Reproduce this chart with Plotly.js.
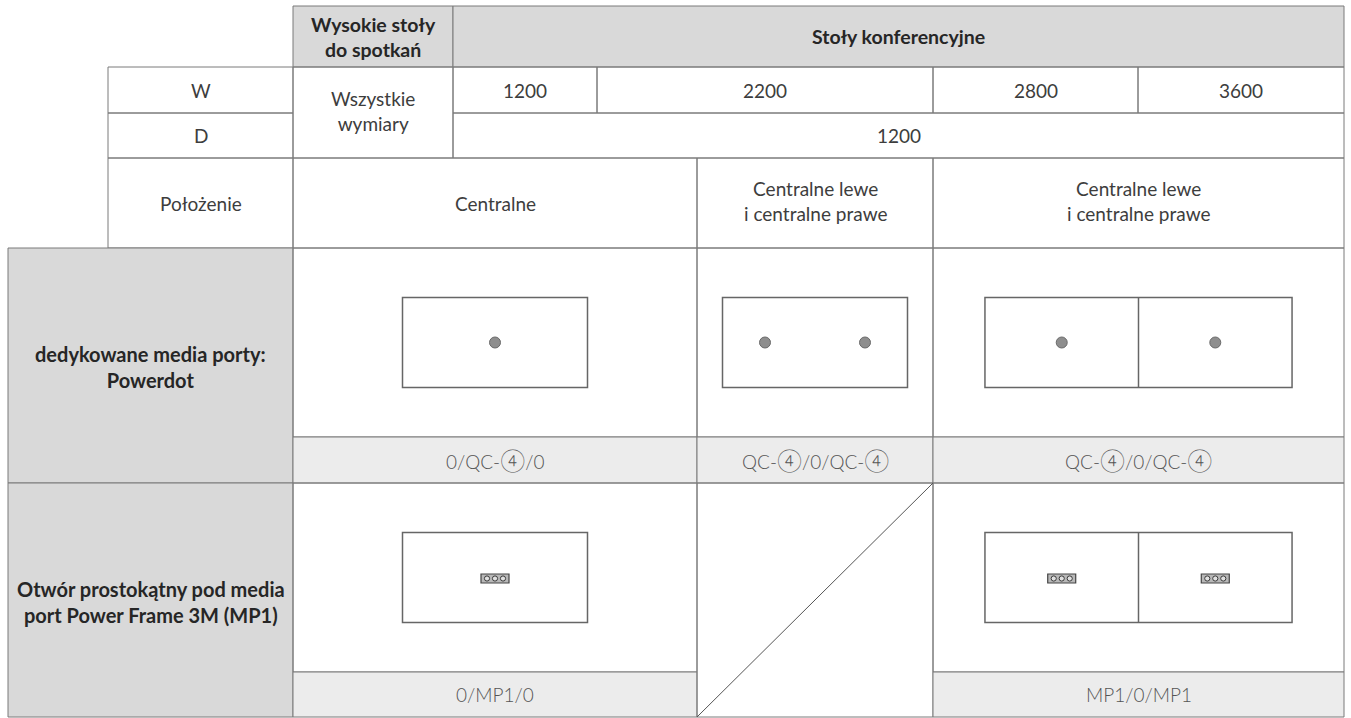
<!DOCTYPE html>
<html>
<head>
<meta charset="utf-8">
<script src="https://cdn.plot.ly/plotly-3.0.1.min.js"></script>
<style>html,body{margin:0;padding:0;background:#fff;}#chart{width:1351px;height:718px;}</style>
</head>
<body>
<div id="chart"></div>
<script>
// ---- DATA ----
const tableGroups = ["Wysokie stoły<br>do spotkań", "Stoły konferencyjne"];
const rowLabels = ["W", "D", "Położenie"];
const allDims = "Wszystkie<br>wymiary";
const widthValues = ["1200", "2200", "2800", "3600"];
const depthValue = "1200";
const positions = ["Centralne", "Centralne lewe<br>i centralne prawe", "Centralne lewe<br>i centralne prawe"];
const portTypes = ["dedykowane media porty:<br>Powerdot", "Otwór prostokątny pod media<br>port Power Frame 3M (MP1)"];
const powerdotCodes = ["0/QC-④/0", "QC-④/0/QC-④", "QC-④/0/QC-④"];
const mp1Codes = ["0/MP1/0", null, "MP1/0/MP1"];
const powerdotPorts = [1, 2, 2];
const mp1Ports = [1, 0, 2];
const tableParts = [1, 1, 2];

// ---- LAYOUT GEOMETRY ----
const X = {outer: 8, lab: 108, c1: 293, c2: 453, c3: 597, pos2: 697, c4: 933, c5: 1138, end: 1344};
const Y = {top: 6, w: 67, d: 113, pos: 158, pd: 248, pdLab: 437, mp: 483, mpLab: 672, bottom: 717};
const LINE = '#7a7a7a';
const GRAY = '#d9d9d9';
const LIGHT = '#ececec';
const FONT = 'Lato, "Noto Sans", sans-serif';

const shapes = [];
const annotations = [];
function cell(x0, y0, x1, y1, fill) {
  shapes.push({type: 'rect', xref: 'x', yref: 'y', x0, y0, x1, y1,
    fillcolor: fill || 'rgba(0,0,0,0)', line: {color: LINE, width: 1}, layer: 'below'});
}
function text(x, y, t, opts) {
  opts = opts || {};
  annotations.push({xref: 'x', yref: 'y', x, y, text: t, showarrow: false,
    xanchor: 'center', yanchor: 'middle',
    font: {family: FONT, size: opts.size || 19, color: opts.color || '#3d3d3d', weight: opts.weight || 400}});
}
function bold(x, y, t, size) { text(x, y, t, {weight: 700, color: '#262626', size: size || 19.5}); }
function codeText(t) {
  return t.replace(/④/g, '<span style="font-size:23px">④</span>');
}

// header
cell(X.c1, Y.top, X.c2, Y.w, GRAY);
cell(X.c2, Y.top, X.end, Y.w, GRAY);
bold((X.c1 + X.c2) / 2, (Y.top + Y.w) / 2, tableGroups[0]);
bold((X.c2 + X.end) / 2, (Y.top + Y.w) / 2, tableGroups[1]);

// W row
cell(X.lab, Y.w, X.c1, Y.d);
text((X.lab + X.c1) / 2, (Y.w + Y.d) / 2, rowLabels[0]);
cell(X.c1, Y.w, X.c2, Y.pos);
text((X.c1 + X.c2) / 2, (Y.w + Y.pos) / 2 - 2, allDims);
const wEdges = [X.c2, X.c3, X.c4, X.c5, X.end];
widthValues.forEach((v, i) => {
  cell(wEdges[i], Y.w, wEdges[i + 1], Y.d);
  text((wEdges[i] + wEdges[i + 1]) / 2, (Y.w + Y.d) / 2, v);
});
// D row
cell(X.lab, Y.d, X.c1, Y.pos);
text((X.lab + X.c1) / 2, (Y.d + Y.pos) / 2, rowLabels[1]);
cell(X.c2, Y.d, X.end, Y.pos);
text((X.c2 + X.end) / 2, (Y.d + Y.pos) / 2, depthValue);
// Position row
cell(X.lab, Y.pos, X.c1, Y.pd);
text((X.lab + X.c1) / 2, (Y.pos + Y.pd) / 2, rowLabels[2]);
const pEdges = [X.c1, X.pos2, X.c4, X.end];
positions.forEach((v, i) => {
  cell(pEdges[i], Y.pos, pEdges[i + 1], Y.pd);
  text((pEdges[i] + pEdges[i + 1]) / 2, (Y.pos + Y.pd) / 2 - (v.indexOf('<br>') >= 0 ? 2 : 0), v);
});

// section label cells
cell(X.outer, Y.pd, X.c1, Y.mp, GRAY);
bold((X.outer + X.c1) / 2, (Y.pd + Y.mp) / 2 + 1, portTypes[0], 20);
cell(X.outer, Y.mp, X.c1, Y.bottom, GRAY);
bold((X.outer + X.c1) / 2, (Y.mp + Y.bottom) / 2 + 2, portTypes[1], 20);

const dotX = [], dotY = [];
const TW = 185, TH = 90;
function drawTable(cx, cy, parts) {
  const w = TW * (parts === 2 ? 1.66 : 1);
  const x0 = cx - w / 2, x1 = cx + w / 2;
  shapes.push({type: 'rect', xref: 'x', yref: 'y', x0, x1, y0: cy - TH / 2, y1: cy + TH / 2,
    line: {color: '#666', width: 1.5}, fillcolor: 'rgba(0,0,0,0)'});
  if (parts === 2) {
    shapes.push({type: 'line', xref: 'x', yref: 'y', x0: cx, x1: cx, y0: cy - TH / 2, y1: cy + TH / 2,
      line: {color: '#666', width: 1.5}});
  }
  return [x0, x1];
}
function portXs(cx, x0, x1, parts, n) {
  if (n === 1) return [cx];
  if (parts === 2) return [(x0 + cx) / 2, (cx + x1) / 2];
  return [cx - 50, cx + 50];
}
function mp1Icon(x, y) {
  shapes.push({type: 'rect', xref: 'x', yref: 'y', x0: x - 14, x1: x + 14, y0: y - 4.5, y1: y + 4.5,
    line: {color: '#444', width: 1.2}, fillcolor: '#b8b8b8'});
  [-8, 0, 8].forEach(d => {
    shapes.push({type: 'circle', xref: 'x', yref: 'y', x0: x + d - 2.6, x1: x + d + 2.6, y0: y - 2.6, y1: y + 2.6,
      line: {color: '#3a3a3a', width: 1}, fillcolor: '#e0e0e0'});
  });
}

// Powerdot row
const pdMid = (Y.pd + Y.pdLab) / 2;
powerdotCodes.forEach((code, i) => {
  const a = pEdges[i], b = pEdges[i + 1], cx = (a + b) / 2;
  cell(a, Y.pd, b, Y.pdLab);
  cell(a, Y.pdLab, b, Y.mp, LIGHT);
  text(cx, (Y.pdLab + Y.mp) / 2, codeText(code), {color: '#555', weight: 300, size: 19});
  const [x0, x1] = drawTable(cx, pdMid, tableParts[i]);
  portXs(cx, x0, x1, tableParts[i], powerdotPorts[i]).forEach(px => { dotX.push(px); dotY.push(pdMid); });
});

// MP1 row
const mpMid = (Y.mp + Y.mpLab) / 2;
mp1Codes.forEach((code, i) => {
  const a = pEdges[i], b = pEdges[i + 1], cx = (a + b) / 2;
  if (code === null) {
    cell(a, Y.mp, b, Y.bottom);
    shapes.push({type: 'line', xref: 'x', yref: 'y', x0: a, y0: Y.bottom, x1: b, y1: Y.mp,
      line: {color: '#555', width: 1}});
    return;
  }
  cell(a, Y.mp, b, Y.mpLab);
  cell(a, Y.mpLab, b, Y.bottom, LIGHT);
  text(cx, (Y.mpLab + Y.bottom) / 2, code, {color: '#555', weight: 300, size: 19});
  const [x0, x1] = drawTable(cx, mpMid, tableParts[i]);
  portXs(cx, x0, x1, tableParts[i], mp1Ports[i]).forEach(px => mp1Icon(px, mpMid + 1));
});

const data = [{
  type: 'scatter', mode: 'markers', x: dotX, y: dotY, hoverinfo: 'skip',
  marker: {size: 11, color: '#8e8e8e', line: {color: '#6a6a6a', width: 1}}
}];

const layout = {
  width: 1351, height: 718,
  margin: {l: 0, r: 0, t: 0, b: 0},
  paper_bgcolor: '#fff', plot_bgcolor: '#fff',
  showlegend: false,
  xaxis: {range: [0, 1351], visible: false, fixedrange: true},
  yaxis: {range: [718, 0], visible: false, fixedrange: true},
  shapes, annotations
};
Plotly.newPlot('chart', data, layout, {staticPlot: true, displayModeBar: false});
</script>
</body>
</html>
